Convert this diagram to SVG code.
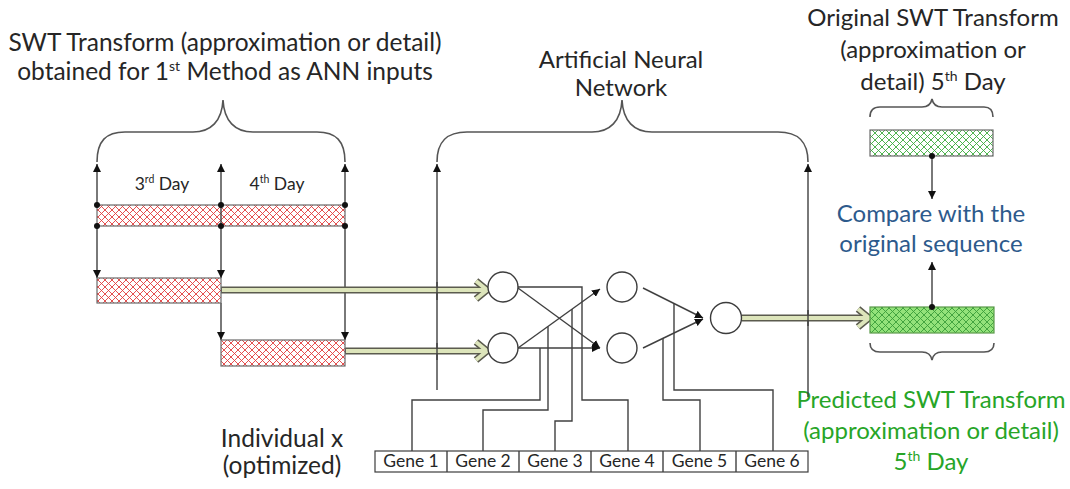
<svg xmlns="http://www.w3.org/2000/svg" width="1070" height="489" viewBox="0 0 1070 489">
<defs>
<pattern id="redHatch" patternUnits="userSpaceOnUse" width="7" height="7">
<rect width="7" height="7" fill="#ffffff"/>
<path d="M0,0 L7,7 M7,0 L0,7" stroke="#e23c3c" stroke-width="0.9"/>
</pattern>
<pattern id="greenHatchLight" patternUnits="userSpaceOnUse" width="7" height="7">
<rect width="7" height="7" fill="#ffffff"/>
<path d="M0,0 L7,7 M7,0 L0,7" stroke="#3cab3c" stroke-width="0.9"/>
</pattern>
<pattern id="greenHatchDark" patternUnits="userSpaceOnUse" width="7" height="7">
<rect width="7" height="7" fill="#93e27a"/>
<path d="M0,0 L7,7 M7,0 L0,7" stroke="#3a9d3a" stroke-width="0.9"/>
</pattern>
<marker id="ah" viewBox="0 0 10 10" refX="10" refY="5" markerWidth="8" markerHeight="8" markerUnits="userSpaceOnUse" orient="auto">
<path d="M0,0 L10,5 L0,10 Z" fill="#111"/>
</marker>
</defs>
<style>
.t{font-family:Lato,"Liberation Sans",sans-serif;fill:#262626;text-anchor:middle}
.big{font-size:24px}
.blue{fill:#2d5a8c}
.green{fill:#27a527}
.ln{stroke:#404040;stroke-width:1.4;fill:none}
.br{stroke:#555;stroke-width:1.6;fill:none}
.arr{marker-end:url(#ah)}
.bar{stroke:#6a6a6a;stroke-width:1.2}
.dot{fill:#111}
.neuron{fill:#fff;stroke:#3c3c3c;stroke-width:1.4}
.dshaft{stroke:#5b5b4e;stroke-width:7;fill:none}
.dfill{stroke:#dde5bb;stroke-width:4;fill:none}
.gene{fill:#fff;stroke:#3c3c3c;stroke-width:1.2}
.gt{font-family:Lato,"Liberation Sans",sans-serif;font-size:17.5px;fill:#262626;text-anchor:middle}
</style>

<g id="labels">
<text class="t big" x="225" y="51" style="font-size:24.5px">SWT Transform (approximation or detail)</text>
<text class="t big" x="225" y="80" style="font-size:24.5px">obtained for 1<tspan font-size="14" dy="-9">st</tspan><tspan dy="9"> Method as ANN inputs</tspan></text>
<text class="t big" x="621" y="68">Artificial Neural</text>
<text class="t big" x="621" y="96">Network</text>
<text class="t big" x="933" y="26">Original SWT Transform</text>
<text class="t big" x="933" y="58">(approximation or</text>
<text class="t big" x="933" y="90">detail) 5<tspan font-size="14" dy="-9">th</tspan><tspan dy="9"> Day</tspan></text>
<text class="t big blue" x="931" y="222">Compare with the</text>
<text class="t big blue" x="931" y="252">original sequence</text>
<text class="t big green" x="931" y="408">Predicted SWT Transform</text>
<text class="t big green" x="931" y="439">(approximation or detail)</text>
<text class="t big green" x="931" y="470">5<tspan font-size="14" dy="-9">th</tspan><tspan dy="9"> Day</tspan></text>
<text class="t" style="font-size:24.5px" x="282" y="447">Individual x</text>
<text class="t" style="font-size:24.5px" x="282" y="474">(optimized)</text>
<text class="t" style="font-size:17.5px" x="162" y="190">3<tspan font-size="10.5" dy="-7">rd</tspan><tspan dy="7"> Day</tspan></text>
<text class="t" style="font-size:17.5px" x="277" y="190">4<tspan font-size="10.5" dy="-7">th</tspan><tspan dy="7"> Day</tspan></text>
</g>

<g id="connectors">
<!-- braces -->
<path class="br" d="M97,162 C97,141 106,132 125,132 L193,132 C211,132 222,121 223,100 C224,121 235,132 253,132 L317,132 C336,132 345,141 345,162"/>
<path class="br" d="M437,162 C437,141 447,132 467,132 L592,132 C610,132 621,121 622,100 C623,121 634,132 652,132 L778,132 C798,132 808,141 808,162"/>
<path class="br" d="M870,117 C870,110 873,107 880,107 L922,107 C928,107 931,104 932,99 C933,104 936,107 942,107 L984,107 C990,107 993,110 993,117"/>
<path class="br" d="M870,343 C870,349 873,352 880,352 L922,352 C928,352 931,355 932,360 C933,355 936,352 942,352 L984,352 C990,352 994,349 994,343"/>
<!-- vertical arrows from input bar -->
<line class="ln arr" x1="97" y1="205" x2="97" y2="164"/>
<line class="ln arr" x1="221" y1="205" x2="221" y2="164"/>
<line class="ln arr" x1="345" y1="205" x2="345" y2="164"/>
<line class="ln" x1="221" y1="205" x2="221" y2="226"/>
<line class="ln arr" x1="97" y1="226" x2="97" y2="278"/>
<line class="ln arr" x1="221" y1="226" x2="221" y2="278"/>
<line class="ln arr" x1="221" y1="303" x2="221" y2="340"/>
<line class="ln arr" x1="345" y1="226" x2="345" y2="340"/>
<!-- ANN brace legs -->
<line class="ln arr" x1="437" y1="390" x2="437" y2="164"/>
<line class="ln arr" x1="808" y1="397" x2="808" y2="164"/>
<!-- network connections -->
<line class="ln arr" x1="518" y1="288" x2="600" y2="348"/>
<line class="ln arr" x1="518" y1="348" x2="600" y2="289"/>
<line class="ln arr" x1="518" y1="348" x2="600" y2="348"/>
<line class="ln arr" x1="643" y1="288" x2="703" y2="318"/>
<line class="ln arr" x1="643" y1="348" x2="703" y2="319"/>
<!-- gene wires -->
<path class="ln" d="M412,451 V400 H540 V348"/>
<path class="ln" d="M483,451 V410 H548 V326.5"/>
<path class="ln" d="M555,451 V421 H572 V309"/>
<path class="ln" d="M628,451 V400 H582 V287 H518"/>
<path class="ln" d="M700,451 V400 H663 V338"/>
<path class="ln" d="M773,451 V390 H674 V303.5"/>
<!-- compare arrows -->
<line class="ln arr" x1="932" y1="156" x2="932" y2="199"/>
<line class="ln arr" x1="932" y1="307" x2="932" y2="262"/>
<!-- hollow double arrows -->
<line class="dshaft" x1="221" y1="290" x2="485" y2="290"/>
<line class="dshaft" x1="345" y1="351" x2="485" y2="351"/>
<line class="dshaft" x1="742" y1="318" x2="867" y2="318"/>
<path class="dshaft" d="M476,281 L487,290 L476,299"/>
<path class="dshaft" d="M476,342 L487,351 L476,360"/>
<path class="dshaft" d="M858,309 L869,318 L858,327"/>
<line class="dfill" x1="222" y1="290" x2="484" y2="290"/>
<line class="dfill" x1="346" y1="351" x2="484" y2="351"/>
<line class="dfill" x1="742" y1="318" x2="866" y2="318"/>
<path class="dfill" d="M476,281 L487,290 L476,299"/>
<path class="dfill" d="M476,342 L487,351 L476,360"/>
<path class="dfill" d="M858,309 L869,318 L858,327"/>
<!-- crossing lines redrawn on top of shafts -->
<line class="ln" x1="437" y1="282" x2="437" y2="300"/>
<line class="ln" x1="437" y1="343" x2="437" y2="360"/>
<line class="ln" x1="808" y1="310" x2="808" y2="326"/>
</g>

<g id="input-bar">
<rect class="bar" x="97" y="205" width="248" height="21" fill="url(#redHatch)"/>
<line class="ln" x1="221" y1="205" x2="221" y2="226"/>
<circle class="dot" cx="97" cy="205" r="3"/>
<circle class="dot" cx="221" cy="205" r="3"/>
<circle class="dot" cx="345" cy="205" r="3"/>
<circle class="dot" cx="97" cy="226" r="3"/>
<circle class="dot" cx="221" cy="226" r="3"/>
<circle class="dot" cx="345" cy="226" r="3"/>
</g>
<g id="day3-bar"><rect class="bar" x="97" y="278" width="124" height="25" fill="url(#redHatch)"/></g>
<g id="day4-bar"><rect class="bar" x="221" y="340" width="124" height="26" fill="url(#redHatch)"/></g>

<g id="n1"><circle class="neuron" cx="503" cy="287" r="15"/></g>
<g id="n2"><circle class="neuron" cx="503" cy="348" r="15"/></g>
<g id="n3"><circle class="neuron" cx="622" cy="287" r="15"/></g>
<g id="n4"><circle class="neuron" cx="622" cy="348" r="15"/></g>
<g id="n5"><circle class="neuron" cx="726" cy="318" r="15.5"/></g>

<g id="original-bar">
<rect class="bar" x="870" y="130" width="123" height="26" fill="url(#greenHatchLight)"/>
<circle class="dot" cx="932" cy="156" r="3"/>
</g>
<g id="predicted-bar">
<rect x="870" y="307" width="124" height="26" fill="url(#greenHatchDark)" stroke="#5a9a4a" stroke-width="1.2"/>
<circle class="dot" cx="932" cy="307" r="3"/>
</g>

<g id="genes">
<rect class="gene" x="375" y="451" width="433" height="21"/>
<line class="ln" x1="447" y1="451" x2="447" y2="472"/>
<line class="ln" x1="519" y1="451" x2="519" y2="472"/>
<line class="ln" x1="591" y1="451" x2="591" y2="472"/>
<line class="ln" x1="663" y1="451" x2="663" y2="472"/>
<line class="ln" x1="736" y1="451" x2="736" y2="472"/>
<text class="gt" x="411" y="467">Gene 1</text>
<text class="gt" x="483" y="467">Gene 2</text>
<text class="gt" x="555" y="467">Gene 3</text>
<text class="gt" x="627" y="467">Gene 4</text>
<text class="gt" x="699.5" y="467">Gene 5</text>
<text class="gt" x="772" y="467">Gene 6</text>
</g>
</svg>
